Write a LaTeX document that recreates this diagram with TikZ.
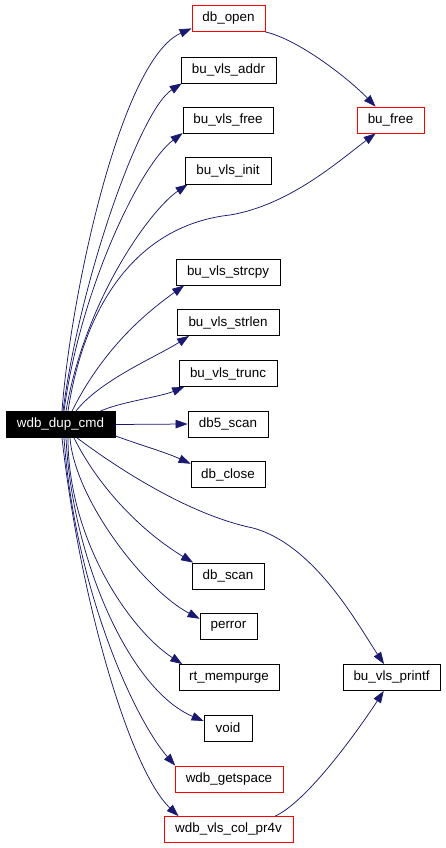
\documentclass[tikz,border=0pt]{standalone}
\usepackage{fontspec}
\setmainfont{Liberation Sans}
\usetikzlibrary{arrows.meta}
\definecolor{edgeblue}{RGB}{25,25,112}
\begin{document}
\begin{tikzpicture}[x=1pt,y=-1pt,
  fn/.style={draw=black,line width=0.8pt,minimum height=26pt,inner sep=0pt,font=\fontsize{13.4}{15}\selectfont,text=black},
  fnred/.style={fn,draw=red},
  root/.style={fn,fill=black,text=white},
  edge/.style={draw=edgeblue,line width=0.75pt,-{Triangle[length=12pt,width=8.5pt]}}]
\useasboundingbox (0,0) rectangle (445,848);
\node[root,minimum width=109pt] (w) at (60.5,424.5) {wdb\_dup\_cmd};
\node[fnred,minimum width=73pt] (dbopen) at (228.5,18.5) {db\_open};
\node[fn,minimum width=95pt] (addr) at (228.5,70) {bu\_vls\_addr};
\node[fn,minimum width=90pt] (vfree) at (228,120) {bu\_vls\_free};
\node[fn,minimum width=86pt,minimum height=27pt] (init) at (228,170.5) {bu\_vls\_init};
\node[fnred,minimum width=67pt] (bufree) at (390.5,120) {bu\_free};
\node[fn,minimum width=104pt] (strcpy) at (228,272) {bu\_vls\_strcpy};
\node[fn,minimum width=102pt] (strlen) at (228,322.5) {bu\_vls\_strlen};
\node[fn,minimum width=98pt] (trunc) at (228,373.5) {bu\_vls\_trunc};
\node[fn,minimum width=80pt] (db5) at (228,424) {db5\_scan};
\node[fn,minimum width=74pt] (dbclose) at (228,474.5) {db\_close};
\node[fn,minimum width=72pt] (dbscan) at (228,576) {db\_scan};
\node[fn,minimum width=57pt] (perror) at (228.5,626.5) {perror};
\node[fn,minimum width=100pt] (mem) at (229,677.5) {rt\_mempurge};
\node[fn,minimum width=97pt] (printf) at (391.5,677.5) {bu\_vls\_printf};
\node[fn,minimum width=48pt] (void) at (228,728) {void};
\node[fnred,minimum width=108pt] (getspace) at (229,779) {wdb\_getspace};
\node[fnred,minimum width=129pt] (pr4v) at (228.5,829.5) {wdb\_vls\_col\_pr4v};

\draw[edge] ([xshift=1.5pt]w.north) .. controls (70,300) and (120,60) .. (dbopen.195);
\draw[edge] ([xshift=2.5pt]w.north) .. controls (80,280) and (140,110) .. (addr.196);
\draw[edge] ([xshift=3.5pt]w.north) .. controls (80,290) and (140,165) .. (vfree.196);
\draw[edge] ([xshift=5.5pt]w.north) .. controls (85,300) and (150,210) .. (init.199);
\draw[edge] ([xshift=7.5pt]w.north) .. controls (85,300) and (140,225) .. (230,215) .. controls (290,205) and (340,160) .. (bufree.222);
\draw[edge] ([xshift=11.5pt]w.north) .. controls (105,345) and (150,310) .. (strcpy.197);
\draw[edge] ([xshift=15.5pt]w.north) .. controls (100,380) and (158,356) .. (strlen.199);
\draw[edge] ([xshift=40pt]w.north) .. controls (120,402) and (160,397) .. (trunc.197);
\draw[edge] (w.east) -- (db5.west);
\draw[edge] ([yshift=2pt]w.south east) .. controls (140,445) and (165,452) .. (dbclose.164);
\draw[edge] ([xshift=16.5pt]w.south) .. controls (120,470) and (190,515) .. (253,528) .. controls (315,545) and (358,625) .. (printf.119);
\draw[edge] ([xshift=13.5pt]w.south) .. controls (100,490) and (144,533) .. (dbscan.159);
\draw[edge] ([xshift=9.5pt]w.south) .. controls (75,500) and (145,590) .. (perror.165);
\draw[edge] ([xshift=7.5pt]w.south) .. controls (68,540) and (130,630) .. (mem.164);
\draw[edge] ([xshift=5.5pt]w.south) .. controls (72,560) and (130,690) .. (void.164);
\draw[edge] ([xshift=3.5pt]w.south) .. controls (75,590) and (135,720) .. (getspace.166);
\draw[edge] ([xshift=1.5pt]w.south) .. controls (80,600) and (130,770) .. (pr4v.165.6);
\draw[edge] (dbopen.340) .. controls (300,40) and (350,80) .. (bufree.138);
\draw[edge] (pr4v.16) .. controls (310,800) and (365,720) .. (printf.240);
\end{tikzpicture}
\end{document}
